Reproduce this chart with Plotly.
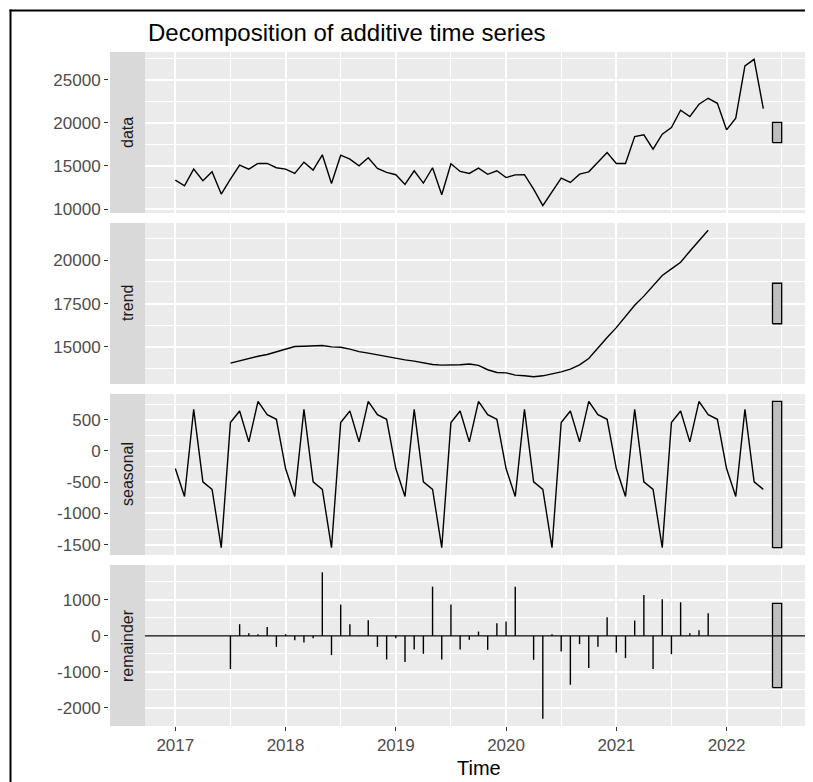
import numpy as np
import plotly.graph_objects as go

# ---------------- data ----------------
start_year = 2017
data_values = [
    13360, 12700, 14630, 13280, 14320, 11740, 13470, 15100, 14630, 15290, 15290, 14790,  # 2017
    14630, 14130, 15440, 14520, 16290, 12970, 16250, 15790, 15020, 15940, 14710, 14250,  # 2018
    13980, 12860, 14440, 13010, 14790, 11660, 15250, 14360, 14130, 14750, 14030, 14440,  # 2019
    13650, 13960, 13980, 12320, 10390, 11930, 13590, 13090, 14050, 14320, 15400, 16560,  # 2020
    15290, 15290, 18410, 18610, 16950, 18680, 19460, 21460, 20730, 22160, 22850, 22270,  # 2021
    19190, 20540, 26600, 27370, 21660,                                                    # 2022
]
# trend starts Jul 2017, ends Nov 2021
trend_offset = 6
trend_values = [
    14060, 14200, 14330, 14460, 14560, 14710,                                            # 2017 Jul-Dec
    14870, 15020, 15040, 15080, 15080, 15000, 14980, 14870, 14730, 14640, 14540, 14430,  # 2018
    14330, 14250, 14180, 14080, 13980, 13950, 13950, 13970, 14010, 13930, 13680, 13520,  # 2019
    13500, 13370, 13330, 13280, 13330, 13430, 13560, 13720, 13960, 14330, 14960, 15540,  # 2020
    16110, 16780, 17400, 17930, 18510, 19120, 19500, 19890, 20520, 21150, 21730,         # 2021 Jan-Nov
]
seasonal_pattern = [-282, -729, 665, -495, -615, -1548, 452, 638, 144, 793, 580, 505]  # Jan..Dec
remainder_values = [
    -926, 324, 74, 46, 250, -306,                                                        # 2017 Jul-Dec
    46, -120, -185, -65, 1769, -537, 870, 324, 10, 435, -306, -657,                      # 2018
    -65, -731, -380, -500, 1370, -657, 870, -380, -111, 120, -390, 352,                  # 2019
    398, 1370, 0, -667, -2306, 46, -435, -1361, -231, -898, -306, 519,                   # 2020
    -463, -620, 426, 1139, -926, 1019, -509, 935, 74, 157, 630,                          # 2021 Jan-Nov
]
panel_names = ["data", "trend", "seasonal", "remainder"]
x_tick_labels = ["2017", "2018", "2019", "2020", "2021", "2022"]
y_ticks = {
    "data": [10000, 15000, 20000, 25000],
    "trend": [15000, 17500, 20000],
    "seasonal": [-1500, -1000, -500, 0, 500],
    "remainder": [-2000, -1000, 0, 1000],
}
y_minor = {"data": 2500, "trend": 1250, "seasonal": 250, "remainder": 500}

# ---------------- derived time index ----------------
n = len(data_values)
t = np.array([start_year + i / 12 for i in range(n)])
t_trend = t[trend_offset:trend_offset + len(trend_values)]
seasonal_values = [seasonal_pattern[i % 12] for i in range(n)]
t_rem = t[trend_offset:trend_offset + len(remainder_values)]

series = {
    "data": (t, np.array(data_values, float)),
    "trend": (t_trend, np.array(trend_values, float)),
    "seasonal": (t, np.array(seasonal_values, float)),
    "remainder": (t_rem, np.array(remainder_values, float)),
}

# range bars (as in forecast::autoplot.decomposed.ts)
tmin, tmax = t.min(), t.max()
barwidth = (tmax - tmin) / 64
bar_left, bar_right = tmax + barwidth, tmax + 2 * barwidth
ranges = {k: (v[1].min(), v[1].max()) for k, v in series.items()}
barlength = min(hi - lo for lo, hi in ranges.values())

# ---------------- layout geometry (page pixels) ----------------
OFF = 8                      # default body margin of the html page
W, H = 813 - OFF, 782 - OFF  # figure size so that it exactly fills the window
panel_px = {"data": (52, 213), "trend": (223, 384), "seasonal": (394, 555), "remainder": (565, 726)}
x_left_px, x_right_px = 145, 812
strip_left_px = 110

def fy(px):
    return 1 - (px - OFF) / H

def fx(px):
    return (px - OFF) / W

xr_lo, xr_hi = tmin, bar_right
xpad = 0.05 * (xr_hi - xr_lo)
x_range = [xr_lo - xpad, xr_hi + xpad]

FONT = "Liberation Sans, Arial"
fig = go.Figure()
shapes = []
annotations = []

for i, name in enumerate(panel_names):
    idx = i + 1
    xa = "x" if idx == 1 else f"x{idx}"
    ya = "y" if idx == 1 else f"y{idx}"
    tx, ty = series[name]
    if name == "remainder":
        xs, ys = [], []
        for a, b in zip(tx, ty):
            xs += [a, a, None]
            ys += [0, b, None]
        fig.add_trace(go.Scatter(x=xs, y=ys, mode="lines", line=dict(color="black", width=1.4),
                                 xaxis=xa, yaxis=ya, hoverinfo="skip", showlegend=False))
        shapes.append(dict(type="line", xref=f"{xa} domain", yref=ya, x0=0, x1=1, y0=0, y1=0,
                           line=dict(color="black", width=1.4), layer="above"))
    else:
        fig.add_trace(go.Scatter(x=tx, y=ty, mode="lines", line=dict(color="black", width=1.4),
                                 xaxis=xa, yaxis=ya, showlegend=False))
    lo, hi = ranges[name]
    mid = (lo + hi) / 2
    b_lo, b_hi = mid - barlength / 2, mid + barlength / 2
    fig.add_trace(go.Scatter(x=[bar_left, bar_right, bar_right, bar_left, bar_left],
                             y=[b_lo, b_lo, b_hi, b_hi, b_lo], mode="lines", fill="toself",
                             fillcolor="#bfbfbf", line=dict(color="black", width=1.3),
                             xaxis=xa, yaxis=ya, showlegend=False, hoverinfo="skip"))
    ylo, yhi = min(lo, b_lo), max(hi, b_hi)
    ypad = 0.05 * (yhi - ylo)
    top_px, bot_px = panel_px[name]
    last = idx == len(panel_names)
    fig.layout[f"xaxis{'' if idx == 1 else idx}"] = dict(
        domain=[fx(x_left_px), min(1.0, fx(x_right_px))], range=x_range, anchor=ya,
        tickmode="array", tickvals=[int(s) for s in x_tick_labels], ticktext=x_tick_labels,
        showticklabels=last, ticks="outside" if last else "", ticklen=4, tickwidth=1.2,
        tickcolor="#333333", showgrid=True, gridcolor="white", gridwidth=1.8,
        minor=dict(dtick=0.5, tick0=2017, showgrid=True, gridcolor="white", gridwidth=0.9),
        zeroline=False, showline=False,
        tickfont=dict(family=FONT, size=17, color="#4d4d4d"),
        matches="x" if idx > 1 else None,
    )
    fig.layout[f"yaxis{'' if idx == 1 else idx}"] = dict(
        domain=[fy(bot_px), fy(top_px)], range=[ylo - ypad, yhi + ypad],
        anchor="free", position=fx(108),
        tickmode="array", tickvals=y_ticks[name], ticktext=[str(v) for v in y_ticks[name]],
        ticks="outside", ticklen=4, tickwidth=1.2, tickcolor="#333333",
        showgrid=True, gridcolor="white", gridwidth=1.8,
        minor=dict(dtick=y_minor[name], tick0=0, showgrid=True, gridcolor="white", gridwidth=0.9),
        zeroline=False, showline=False,
        tickfont=dict(family=FONT, size=17, color="#4d4d4d"),
    )
    # strip
    shapes.append(dict(type="rect", xref="paper", yref="paper", x0=fx(strip_left_px), x1=fx(x_left_px),
                       y0=fy(bot_px), y1=fy(top_px), fillcolor="#d9d9d9", line=dict(width=0), layer="below"))
    annotations.append(dict(text=name, xref="paper", yref="paper", x=fx((strip_left_px + x_left_px) / 2),
                            y=fy((top_px + bot_px) / 2), textangle=-90, showarrow=False,
                            xanchor="center", yanchor="middle",
                            font=dict(family=FONT, size=16, color="#1a1a1a")))

# title & axis title
annotations.append(dict(text="Decomposition of additive time series", xref="paper", yref="paper",
                        x=fx(146), y=fy(33), xanchor="left", yanchor="middle", showarrow=False,
                        font=dict(family=FONT, size=24, color="black")))
annotations.append(dict(text="Time", xref="paper", yref="paper", x=fx((x_left_px + x_right_px) / 2),
                        y=fy(768), xanchor="center", yanchor="middle", showarrow=False,
                        font=dict(family=FONT, size=20, color="black")))
# outer frame (left & top edges visible)
shapes.append(dict(type="line", xref="paper", yref="paper", x0=fx(10.5), x1=fx(10.5), y0=-0.01, y1=fy(9.5),
                   line=dict(color="black", width=2)))
shapes.append(dict(type="line", xref="paper", yref="paper", x0=fx(9.5), x1=1.01, y0=fy(10.5), y1=fy(10.5),
                   line=dict(color="black", width=2)))

fig.update_layout(width=W, height=H, margin=dict(l=0, r=0, t=0, b=0, autoexpand=False),
                  paper_bgcolor="white", plot_bgcolor="#ebebeb", showlegend=False,
                  shapes=shapes, annotations=annotations)

fig.write_html("out.html")
